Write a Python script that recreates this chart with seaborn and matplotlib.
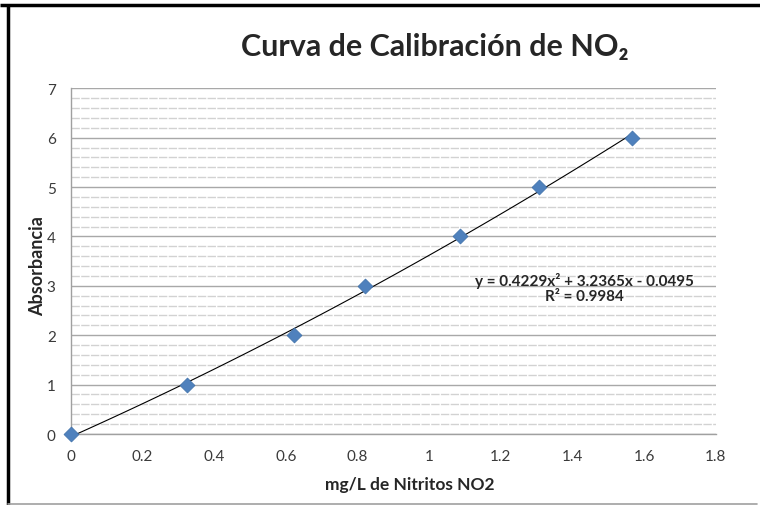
import numpy as np
import pandas as pd
import seaborn as sns
import matplotlib.pyplot as plt
from matplotlib.ticker import MultipleLocator

# datos de calibracion
concentracion = [0.0, 0.324, 0.624, 0.822, 1.087, 1.306, 1.566]
absorbancia = [0, 1, 2, 3, 4, 5, 6]
x_ticks = [0, 0.2, 0.4, 0.6, 0.8, 1, 1.2, 1.4, 1.6, 1.8]
x_tick_labels = ['0', '0.2', '0.4', '0.6', '0.8', '1', '1.2', '1.4', '1.6', '1.8']
y_ticks = [0, 1, 2, 3, 4, 5, 6, 7]
ecuacion = 'y = 0.4229x² + 3.2365x - 0.0495\nR² = 0.9984'

df = pd.DataFrame({'mg/L': concentracion, 'Absorbancia': absorbancia})

sns.set_style('white')
plt.rcParams['font.family'] = ['Lato', 'DejaVu Sans']

fig = plt.figure(figsize=(7.6, 5.06), dpi=100)
ax = fig.add_axes([0.0934, 0.1403, 0.8483, 0.6832])

# grid estilo Excel
ax.yaxis.set_minor_locator(MultipleLocator(0.2))
ax.grid(axis='y', which='minor', color='#d2d2d2', linestyle=(0, (6, 1)), linewidth=1.0, zorder=0)
ax.grid(axis='y', which='major', color='#a8a8a8', linestyle='-', linewidth=1.0, zorder=0)
ax.set_axisbelow(True)

sns.regplot(data=df, x='mg/L', y='Absorbancia', order=2, ci=None, scatter=False,
            line_kws={'color': 'black', 'linewidth': 0.8, 'zorder': 2}, ax=ax)
sns.scatterplot(data=df, x='mg/L', y='Absorbancia', marker='D', s=58,
                color='#4F81BD', edgecolor='#3E6FA8', linewidth=0.5, zorder=3, ax=ax)
for c in ax.collections:
    c.set_clip_on(False)

ax.set_xlim(0, 1.8)
ax.set_ylim(0, 7)
ax.set_xticks(x_ticks)
ax.set_xticklabels(x_tick_labels)
ax.set_yticks(y_ticks)

for s in ['top', 'right']:
    ax.spines[s].set_visible(False)
for s in ['left', 'bottom']:
    ax.spines[s].set_color('#a0a0a0')
    ax.spines[s].set_linewidth(1.0)
ax.spines['left'].set_zorder(1)
ax.tick_params(axis='both', which='major', direction='out', length=5, width=1,
               color='#a0a0a0', labelsize=11, labelcolor='#3a3a3a', pad=6)
ax.tick_params(axis='y', which='minor', length=0)
ax.tick_params(axis='x', pad=6)

ax.set_xlabel('mg/L de Nitritos NO2', fontsize=12.5, fontweight='bold')
ax.xaxis.set_label_coords(0.526, -0.122)
ax.set_ylabel('Absorbancia', fontsize=13, fontweight='bold')
ax.yaxis.set_label_coords(-0.038, 0.49)

ax.text(1.434, 2.97, ecuacion, ha='center', va='center', fontsize=11,
        fontweight='bold', linespacing=1.15, zorder=4)

fig.text(0.572, 0.907, 'Curva de Calibración de NO₂', ha='center', va='center',
         fontsize=22, fontweight='bold')

# marco de la imagen
fig.add_artist(plt.Line2D([0, 1], [1 - 6 / 506, 1 - 6 / 506], color='black',
                          linewidth=2.5, solid_capstyle='butt'))
fig.add_artist(plt.Line2D([8 / 760, 8 / 760], [0, 1 - 6 / 506], color='black',
                          linewidth=2.5, solid_capstyle='butt'))
fig.add_artist(plt.Line2D([8 / 760, 757 / 760], [1.5 / 506, 1.5 / 506], color='#a0a0a0',
                          linewidth=1.2))

fig.savefig('out.png', dpi=100)
